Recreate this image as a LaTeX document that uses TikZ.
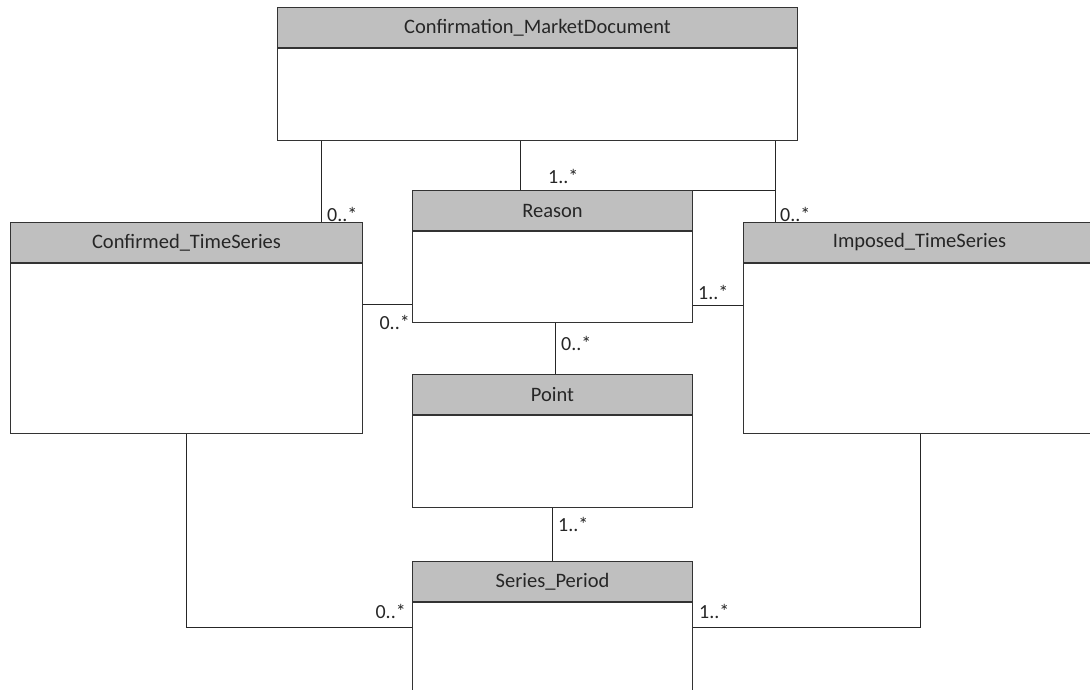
\documentclass[tikz,border=0pt]{standalone}
\usepackage{fontspec}
\setmainfont{Carlito}
\begin{document}
\begin{tikzpicture}[x=1pt,y=-1pt,
  hdr/.style={draw=black!80, line width=1pt, fill=black!25, anchor=north west, inner sep=0pt,
    minimum height=40pt, font=\fontsize{20.5}{23}\selectfont, text=black!85},
  bodybox/.style={draw=black!80, line width=1pt, fill=white, anchor=north west, inner sep=0pt},
  conn/.style={draw=black!85, line width=0.9pt},
  mult/.style={anchor=base west, inner sep=0pt, font=\fontsize{20}{23}\selectfont, text=black!85},
  multr/.style={anchor=base east, inner sep=0pt, font=\fontsize{20}{23}\selectfont, text=black!85}]
\useasboundingbox (0,0) rectangle (1090,689);
\clip (0,0) rectangle (1090,689);
% named coordinates for connector columns/rows
\coordinate (c321) at (321,0);
\coordinate (c520) at (520,0);
\coordinate (c775) at (775,0);
\coordinate (c555) at (555,0);
\coordinate (c552) at (552,0);
\coordinate (c186) at (186,0);
\coordinate (c920) at (920,0);
\coordinate (r304) at (0,304);
\coordinate (r305) at (0,305);
\coordinate (r627) at (0,627);
% Classes
\node[hdr, minimum width=520pt] (cmdH) at (277,7) {Confirmation\_MarketDocument};
\node[bodybox, minimum width=520pt, minimum height=92pt] (cmd) at (cmdH.south west) {};
\node[hdr, minimum width=352pt] (ctH) at (10,222) {Confirmed\_TimeSeries};
\node[bodybox, minimum width=352pt, minimum height=170pt] (ct) at (ctH.south west) {};
\node[hdr, minimum width=280pt] (rH) at (412,190) {Reason};
\node[bodybox, minimum width=280pt, minimum height=91pt] (r) at (rH.south west) {};
\node[hdr, minimum width=352pt] (imH) at (743,222) {Imposed\_TimeSeries};
\node[bodybox, minimum width=352pt, minimum height=170pt] (im) at (imH.south west) {};
\node[hdr, minimum width=280pt] (pH) at (412,374) {Point};
\node[bodybox, minimum width=280pt, minimum height=92pt] (p) at (pH.south west) {};
\node[hdr, minimum width=280pt] (sH) at (412,561) {Series\_Period};
\node[bodybox, minimum width=280pt, minimum height=140pt] (s) at (sH.south west) {};
% connectors
\draw[conn] (cmd.south -| c321) -- (ctH.north -| c321);
\draw[conn] (cmd.south -| c520) -- (rH.north -| c520);
\draw[conn] (cmd.south -| c775) -- (imH.north -| c775);
\draw[conn] (rH.north east) -- (rH.north east -| c775);
\draw[conn] (ct.east |- r304) -- (r.west |- r304);
\draw[conn] (r.east |- r305) -- (im.west |- r305);
\draw[conn] (r.south -| c555) -- (pH.north -| c555);
\draw[conn] (p.south -| c552) -- (sH.north -| c552);
\draw[conn] (ct.south -| c186) |- (s.west |- r627);
\draw[conn] (im.south -| c920) |- (s.east |- r627);
% multiplicities
\node[mult] (m1) at (327,221) {0..*};
\node[mult] (m2) at (548,183) {1..*};
\node[mult] (m3) at (780,221) {0..*};
\node[multr] (m4) at (410,329) {0..*};
\node[mult] (m5) at (698,299) {1..*};
\node[mult] (m6) at (561,350) {0..*};
\node[mult] (m7) at (558,531) {1..*};
\node[multr] (m8) at (406,618) {0..*};
\node[mult] (m9) at (699,618) {1..*};
\end{tikzpicture}
\end{document}
